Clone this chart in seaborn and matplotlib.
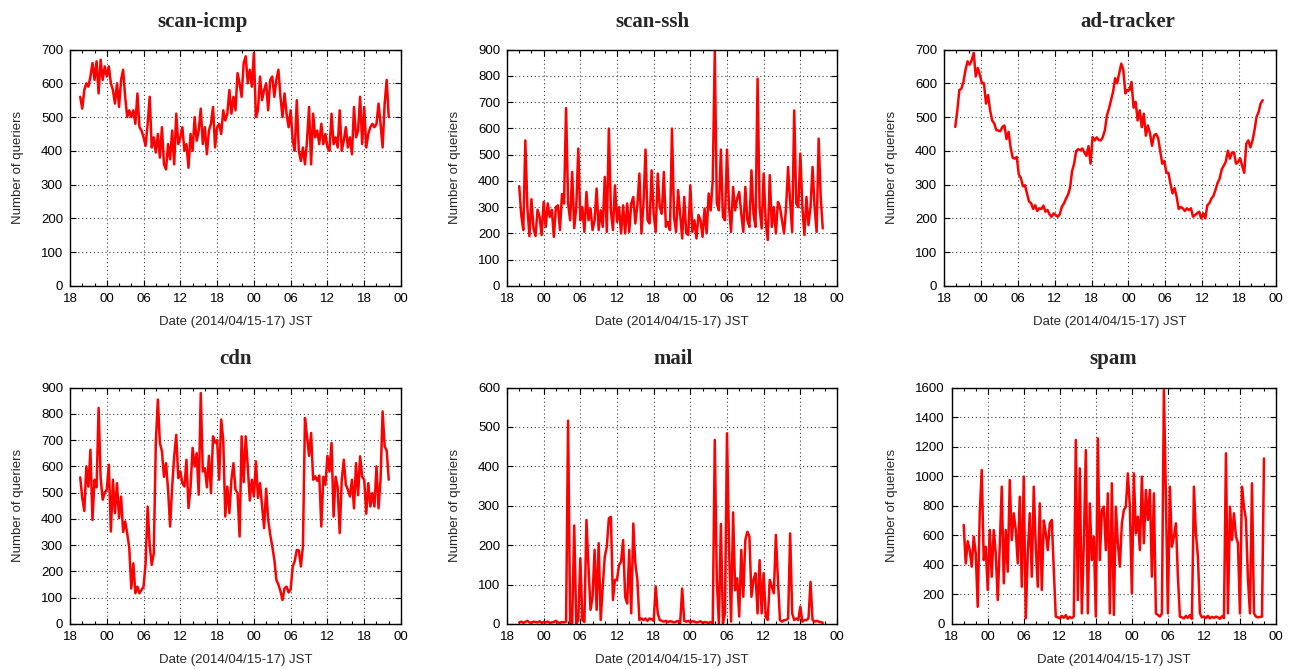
import numpy as np
import pandas as pd
import matplotlib
matplotlib.use("Agg")
import matplotlib.pyplot as plt
import matplotlib.dates as mdates
from matplotlib.ticker import MultipleLocator
import seaborn as sns

# ---------------- data ----------------
TITLES = ["scan-icmp", "scan-ssh", "ad-tracker", "cdn", "mail", "spam"]
STARTS = ["2014-04-15 19:40", "2014-04-15 20:00", "2014-04-15 19:50",
          "2014-04-15 19:40", "2014-04-15 20:00", "2014-04-15 20:00"]
STEP = "20min"
X_RANGE = ["2014-04-15 18:00", "2014-04-18 00:00"]
YMAX = [700, 900, 700, 900, 600, 1600]
YSTEP = [100, 100, 100, 100, 100, 200]
XLABEL = "Date (2014/04/15-17) JST"
YLABEL = "Number of queriers"

SCAN_ICMP = [
    560, 525, 580, 600, 590, 620, 660, 610, 665, 570, 670, 610, 650,
    620, 650, 600, 580, 540, 600, 530, 610, 640, 560, 500, 520, 500, 520, 480, 570, 470, 460,
    440, 415, 480, 560, 410, 440, 395, 450, 380, 470, 360, 345, 420, 375, 460, 360, 510, 420,
    440, 470, 400, 420, 350, 450, 400, 500, 430, 460, 525, 420, 470, 390, 460, 480, 530, 410,
    470, 480, 450, 520, 490, 510, 580, 510, 560, 520, 630, 600, 560, 660, 680, 600, 640, 590,
    690, 500, 520, 620, 550, 580, 600, 520, 610, 620, 560, 610, 640, 560, 500, 570, 510, 470,
    520, 430, 400, 550, 400, 370, 410, 360, 430, 530, 360, 510, 440, 460, 420, 480, 420, 450,
    410, 400, 510, 420, 440, 410, 520, 400, 430, 470, 410, 440, 390, 530, 440, 460, 560, 420,
    530, 410, 450, 470, 480, 470, 480, 540, 480, 410, 540, 610, 500,
]

SCAN_SSH = [
    380, 270, 213, 554, 300, 190, 330, 220, 190, 290, 263, 194,
    320, 225, 314, 263, 290, 187, 300, 307, 213, 350, 314, 677, 314, 250, 434, 220, 300, 523,
    250, 300, 206, 358, 250, 295, 213, 250, 371, 213, 288, 225, 415, 206, 599, 288, 213, 383,
    244, 300, 200, 307, 200, 314, 206, 314, 339, 238, 307, 428, 200, 314, 519, 250, 238, 440,
    275, 206, 428, 300, 275, 434, 225, 244, 213, 599, 263, 206, 365, 275, 181, 339, 200, 194,
    383, 206, 250, 181, 270, 250, 187, 295, 200, 352, 288, 403, 892, 314, 288, 519, 263, 250,
    519, 300, 206, 377, 288, 333, 358, 275, 206, 377, 250, 225, 440, 275, 225, 789, 300, 219,
    428, 244, 175, 422, 225, 300, 200, 320, 300, 250, 200, 300, 453, 320, 206, 668, 314, 300,
    504, 300, 194, 339, 232, 300, 453, 300, 206, 561, 339, 219,
]

AD_TRACKER = [
    471, 520, 580, 584, 605, 640, 665, 655, 668, 690, 620, 645, 625,
    600, 600, 540, 565, 520, 490, 481, 462, 460, 458, 471, 475, 435, 456, 410, 380, 377, 382,
    330, 320, 295, 298, 274, 250, 245, 228, 239, 222, 230, 228, 238, 220, 225, 212, 205, 215,
    210, 205, 212, 235, 244, 258, 270, 290, 340, 362, 400, 405, 402, 407, 395, 385, 414, 362,
    441, 431, 440, 432, 431, 441, 461, 505, 525, 550, 575, 615, 600, 630, 658, 640, 570, 580,
    580, 604, 528, 545, 490, 520, 470, 510, 445, 475, 452, 415, 446, 450, 438, 400, 362, 370,
    335, 335, 303, 274, 290, 265, 228, 234, 230, 222, 230, 225, 230, 205, 210, 215, 220, 200,
    215, 200, 239, 245, 259, 267, 285, 305, 318, 345, 356, 368, 400, 377, 395, 395, 362, 367,
    378, 355, 335, 421, 431, 410, 430, 461, 500, 515, 540, 550,
]

CDN = [
    558, 480, 430, 600, 523, 663, 396, 549, 520, 822, 555, 473, 500,
    511, 606, 352, 549, 422, 536, 403, 485, 350, 390, 345, 290, 135, 231, 117, 142, 117, 130,
    142, 230, 447, 300, 225, 269, 689, 854, 689, 657, 560, 612, 511, 371, 523, 638, 720, 555,
    581, 536, 523, 625, 441, 520, 670, 600, 650, 492, 879, 580, 593, 520, 640, 498, 714, 690,
    700, 549, 778, 700, 409, 523, 422, 549, 612, 511, 498, 333, 714, 540, 714, 600, 470, 549,
    485, 619, 480, 536, 450, 365, 515, 396, 340, 295, 245, 168, 150, 125, 91, 136, 142, 120,
    132, 219, 240, 282, 280, 219, 295, 784, 714, 640, 727, 549, 562, 545, 565, 371, 560, 530,
    640, 580, 689, 409, 560, 520, 346, 549, 625, 530, 511, 485, 549, 440, 612, 490, 638, 560,
    549, 420, 536, 447, 498, 447, 600, 440, 549, 809, 676, 660, 549,
]

MAIL = [
    4, 6, 3, 5, 8, 4, 3, 6, 5, 4, 7, 3,
    5, 4, 6, 3, 4, 5, 8, 4, 3, 5, 4, 6, 516, 0, 2, 250, 0, 10,
    167, 10, 5, 264, 146, 36, 69, 188, 36, 205, 10, 95, 171, 196, 268, 272, 61, 112,
    112, 150, 158, 213, 69, 52, 188, 27, 255, 154, 112, 10, 14, 10, 14, 8, 14, 12,
    8, 95, 27, 10, 8, 6, 8, 5, 7, 6, 4, 6, 8, 2, 90, 8, 6, 8,
    5, 7, 6, 4, 5, 7, 3, 5, 4, 3, 5, 2, 467, 112, 2, 254, 2, 27,
    484, 196, 6, 283, 86, 116, 19, 188, 69, 213, 234, 222, 69, 112, 129, 27, 162, 27,
    129, 19, 10, 112, 95, 78, 226, 112, 10, 6, 10, 10, 14, 230, 27, 10, 14, 10,
    44, 6, 10, 10, 14, 107, 10, 6, 8, 6, 5, 3,
]

SPAM = [
    670, 410, 560, 500, 388, 591, 478, 117, 749, 1042, 433, 523,
    230, 636, 320, 636, 478, 162, 523, 929, 275, 636, 354, 974, 568, 749, 636, 410, 861, 252,
    997, 38, 478, 749, 320, 929, 523, 252, 816, 230, 700, 613, 500, 681, 704, 365, 50, 45,
    38, 55, 42, 60, 35, 48, 40, 52, 1245, 162, 1053, 72, 546, 1177, 72, 816, 433, 591,
    50, 1256, 433, 771, 794, 500, 884, 72, 952, 61, 794, 546, 388, 681, 771, 794, 1019, 794,
    207, 1019, 613, 726, 500, 997, 546, 907, 704, 907, 320, 884, 72, 61, 50, 72, 1583, 861,
    72, 929, 523, 591, 681, 320, 50, 45, 38, 55, 42, 60, 35, 929, 613, 455, 72, 45,
    50, 40, 55, 38, 48, 42, 50, 45, 35, 52, 40, 1155, 72, 794, 568, 749, 591, 546,
    72, 929, 794, 704, 298, 72, 952, 72, 50, 45, 48, 50, 1120,
]

SERIES = [SCAN_ICMP, SCAN_SSH, AD_TRACKER, CDN, MAIL, SPAM]

# ---------------- layout (pixels) ----------------
W, H = 1293, 669
BOXES = [(70, 49.5, 401, 286), (507, 49.5, 837, 286), (944, 49.5, 1276, 286),
         (70, 387.5, 401, 624), (507, 387.5, 837, 624), (951.7, 387.5, 1276, 624)]
TITLE_POS = [(203, 27), (652, 27), (1128, 27), (236, 364), (673, 364), (1113, 364)]

sns.set_style("ticks")
plt.rcParams["font.family"] = ["Liberation Sans", "DejaVu Sans"]
plt.rcParams.update({
    "xtick.direction": "in", "ytick.direction": "in",
    "xtick.top": True, "ytick.right": True,
    "xtick.major.size": 4, "ytick.major.size": 4,
    "xtick.minor.size": 2, "xtick.major.width": 0.8, "ytick.major.width": 0.8,
    "xtick.minor.width": 0.8,
    "axes.linewidth": 1.0, "axes.edgecolor": "black",
    "xtick.color": "black", "ytick.color": "black",
    "font.size": 9.5,
})

fig = plt.figure(figsize=(W / 100, H / 100), dpi=100)

for i, (title, vals, start) in enumerate(zip(TITLES, SERIES, STARTS)):
    x0, y0, x1, y1 = BOXES[i]
    ax = fig.add_axes([x0 / W, 1 - y1 / H, (x1 - x0) / W, (y1 - y0) / H])
    times = pd.date_range(start, periods=len(vals), freq=STEP)
    df = pd.DataFrame({"time": times, "queriers": vals})
    sns.lineplot(data=df, x="time", y="queriers", ax=ax, color="#ff0000",
                 linewidth=1.8, errorbar=None)
    ax.set_xlim(pd.Timestamp(X_RANGE[0]), pd.Timestamp(X_RANGE[1]))
    ax.set_ylim(0, YMAX[i])
    ax.yaxis.set_major_locator(MultipleLocator(YSTEP[i]))
    ax.xaxis.set_major_locator(mdates.HourLocator(byhour=[0, 6, 12, 18]))
    ax.xaxis.set_minor_locator(mdates.HourLocator(byhour=list(range(0, 24, 2))))
    ax.xaxis.set_major_formatter(mdates.DateFormatter("%H"))
    ax.tick_params(axis="both", which="both", labelsize=9.5)
    ax.tick_params(axis="x", which="major", pad=5)
    ax.tick_params(axis="y", which="major", pad=5)
    ax.set_axisbelow(True)
    ax.grid(True, which="major", linestyle=(0, (1, 2.5)), color="0.25", linewidth=0.8)
    ax.set_xlabel(XLABEL, fontsize=9.5, labelpad=8)
    ax.set_ylabel(YLABEL, fontsize=9.5, labelpad=12)
    for s in ax.spines.values():
        s.set_visible(True)
        s.set_color("black")
    tx, ty = TITLE_POS[i]
    fig.text(tx / W, 1 - ty / H, title, ha="center", va="baseline",
             fontsize=15, fontweight="bold", family=["Liberation Serif", "DejaVu Serif"])

fig.savefig("out.png", dpi=100)
